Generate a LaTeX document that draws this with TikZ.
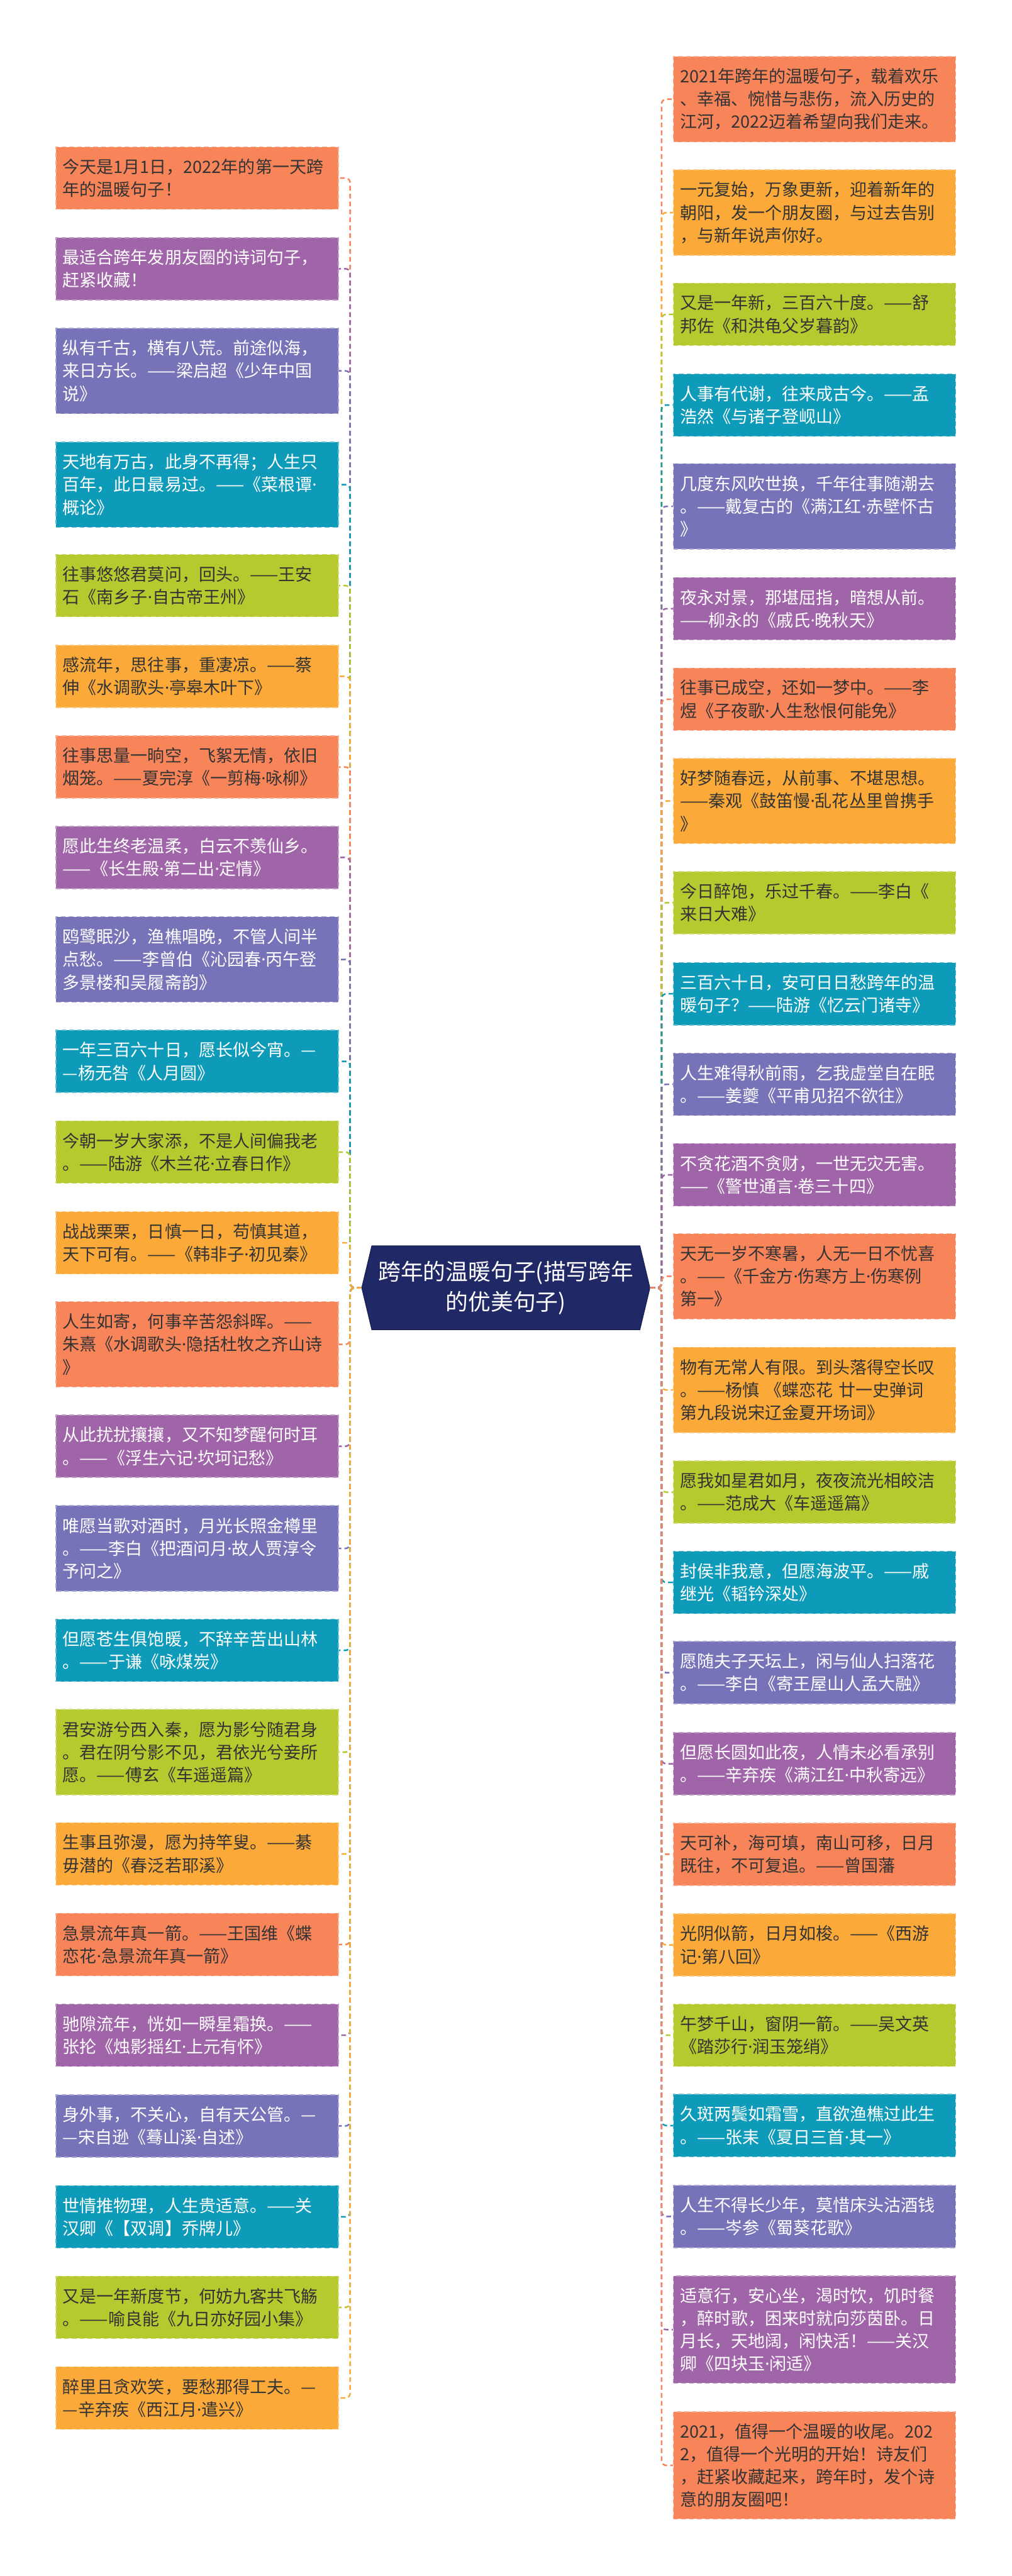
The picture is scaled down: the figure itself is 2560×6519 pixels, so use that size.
\documentclass[tikz,border=0pt]{standalone}
\usepackage{fontspec}
\setmainfont{Noto Sans CJK SC}
\newfontfamily\dotfont{Noto Sans}
\newcommand\mdot{{\dotfont ·}}
\usetikzlibrary{shapes.symbols}
\definecolor{coral}{HTML}{F8845A}
\definecolor{amber}{HTML}{FBAA3A}
\definecolor{lime}{HTML}{B6C92F}
\definecolor{teal}{HTML}{0E9BB9}
\definecolor{indigo}{HTML}{7673B8}
\definecolor{plum}{HTML}{A064A8}
\definecolor{navy}{HTML}{212866}
\definecolor{ink}{HTML}{333333}
\begin{document}
\begin{tikzpicture}[
      x=0.25pt,y=-0.25pt,
      leaf/.style={
        rectangle,fill=#1,draw=#1!65!white,dashed,line width=0.6pt,
        dash pattern=on 3pt off 2pt,
        text width=170pt,inner xsep=4.25pt,inner ysep=1pt,align=left,
        minimum height=39.4pt,font=\fontsize{10.75pt}{14.4pt}\selectfont,
        execute at begin node={\XeTeXlinebreakpenalty=10000\relax
          \hyphenpenalty=10000\relax\exhyphenpenalty=10000\relax}
      },
      dk/.style={leaf=#1,text=ink},
      wt/.style={leaf=#1,text=white},
      l3/.style={minimum height=54pt},
      l4/.style={minimum height=67.75pt},
      rootbox/.style={
        signal,signal to=west and east,signal pointer angle=153,
        fill=navy,draw=navy!80!black,line width=0.5pt,text=white,align=center,
        minimum width=182.25pt,minimum height=53pt,inner sep=1pt,
        font=\fontsize{14.25pt}{19pt}\selectfont
      },
      link/.style={dashed,dash pattern=on 3pt off 2pt,line width=1pt,rounded corners=3pt},
    ]
    \useasboundingbox (0,0) rectangle (2560,6519);
    \node[rootbox] (root) at (1280,3259) {跨年的温暖句子(描写跨年\\的优美句子)};
    \coordinate (ltrunk) at (886,3259);
    \coordinate (rtrunk) at (1674,3259);
    % left side
    \node[dk=coral] (l1) at (499,450.5) {今天是1月1日，2022年的第一天跨\\年的温暖句子！};
    \node[wt=plum] (l2) at (499,680) {最适合跨年发朋友圈的诗词句子，\\赶紧收藏！};
    \node[wt=indigo,l3] (l3) at (499,938.5) {纵有千古，横有八荒。前途似海，\\来日方长。——梁启超《少年中国\\说》};
    \node[wt=teal,l3] (l4) at (499,1226.5) {天地有万古，此身不再得；人生只\\百年，此日最易过。——《菜根谭\mdot{}\\概论》};
    \node[dk=lime] (l5) at (499,1482) {往事悠悠君莫问，回头。——王安\\石《南乡子\mdot{}自古帝王州》};
    \node[dk=amber] (l6) at (499,1711.5) {感流年，思往事，重凄凉。——蔡\\伸《水调歌头\mdot{}亭皋木叶下》};
    \node[dk=coral] (l7) at (499,1941) {往事思量一晌空，飞絮无情，依旧\\烟笼。——夏完淳《一剪梅\mdot{}咏柳》};
    \node[wt=plum] (l8) at (499,2170) {愿此生终老温柔，白云不羡仙乡。\\——《长生殿\mdot{}第二出\mdot{}定情》};
    \node[wt=indigo,l3] (l9) at (499,2428) {鸥鹭眠沙，渔樵唱晚，不管人间半\\点愁。——李曾伯《沁园春\mdot{}丙午登\\多景楼和吴履斋韵》};
    \node[wt=teal] (l10) at (499,2686) {一年三百六十日，愿长似今宵。—\\—杨无咎《人月圆》};
    \node[dk=lime] (l11) at (499,2915.5) {今朝一岁大家添，不是人间偏我老\\。——陆游《木兰花\mdot{}立春日作》};
    \node[dk=amber] (l12) at (499,3145) {战战栗栗，日慎一日，苟慎其道，\\天下可有。——《韩非子\mdot{}初见秦》};
    \node[dk=coral,l3] (l13) at (499,3402) {人生如寄，何事辛苦怨斜晖。——\\朱熹《水调歌头\mdot{}隐括杜牧之齐山诗\\》};
    \node[wt=plum] (l14) at (499,3660) {从此扰扰攘攘，又不知梦醒何时耳\\。——《浮生六记\mdot{}坎坷记愁》};
    \node[wt=indigo,l3] (l15) at (499,3918.5) {唯愿当歌对酒时，月光长照金樽里\\。——李白《把酒问月\mdot{}故人贾淳令\\予问之》};
    \node[wt=teal] (l16) at (499,4176.5) {但愿苍生俱饱暖，不辞辛苦出山林\\。——于谦《咏煤炭》};
    \node[dk=lime,l3] (l17) at (499,4434) {君安游兮西入秦，愿为影兮随君身\\。君在阴兮影不见，君依光兮妾所\\愿。——傅玄《车遥遥篇》};
    \node[dk=amber] (l18) at (499,4691.5) {生事且弥漫，愿为持竿叟。——綦\\毋潜的《春泛若耶溪》};
    \node[dk=coral] (l19) at (499,4921) {急景流年真一箭。——王国维《蝶\\恋花\mdot{}急景流年真一箭》};
    \node[wt=plum] (l20) at (499,5150.5) {驰隙流年，恍如一瞬星霜换。——\\张抡《烛影摇红\mdot{}上元有怀》};
    \node[wt=indigo] (l21) at (499,5380) {身外事，不关心，自有天公管。—\\—宋自逊《蓦山溪\mdot{}自述》};
    \node[wt=teal] (l22) at (499,5610) {世情推物理，人生贵适意。——关\\汉卿《【双调】乔牌儿》};
    \node[dk=lime] (l23) at (499,5839) {又是一年新度节，何妨九客共飞觞\\。——喻良能《九日亦好园小集》};
    \node[dk=amber] (l24) at (499,6068.5) {醉里且贪欢笑，要愁那得工夫。—\\—辛弃疾《西江月\mdot{}遣兴》};
    % right side
    \node[dk=coral,l3] (r1) at (2061,251) {2021年跨年的温暖句子，载着欢乐\\、幸福、惋惜与悲伤，流入历史的\\江河，2022迈着希望向我们走来。};
    \node[dk=amber,l3] (r2) at (2061,538) {一元复始，万象更新，迎着新年的\\朝阳，发一个朋友圈，与过去告别\\，与新年说声你好。};
    \node[dk=lime] (r3) at (2061,795.5) {又是一年新，三百六十度。——舒\\邦佐《和洪龟父岁暮韵》};
    \node[wt=teal] (r4) at (2061,1025) {人事有代谢，往来成古今。——孟\\浩然《与诸子登岘山》};
    \node[wt=indigo,l3] (r5) at (2061,1281.5) {几度东风吹世换，千年往事随潮去\\。——戴复古的《满江红\mdot{}赤壁怀古\\》};
    \node[wt=plum] (r6) at (2061,1540.5) {夜永对景，那堪屈指，暗想从前。\\——柳永的《戚氏\mdot{}晚秋天》};
    \node[dk=coral] (r7) at (2061,1769.5) {往事已成空，还如一梦中。——李\\煜《子夜歌\mdot{}人生愁恨何能免》};
    \node[dk=amber,l3] (r8) at (2061,2027) {好梦随春远，从前事、不堪思想。\\——秦观《鼓笛慢\mdot{}乱花丛里曾携手\\》};
    \node[dk=lime] (r9) at (2061,2284.5) {今日醉饱，乐过千春。——李白《\\来日大难》};
    \node[wt=teal] (r10) at (2061,2515) {三百六十日，安可日日愁跨年的温\\暖句子？——陆游《忆云门诸寺》};
    \node[wt=indigo] (r11) at (2061,2744) {人生难得秋前雨，乞我虚堂自在眠\\。——姜夔《平甫见招不欲往》};
    \node[wt=plum] (r12) at (2061,2973) {不贪花酒不贪财，一世无灾无害。\\——《警世通言\mdot{}卷三十四》};
    \node[dk=coral,l3] (r13) at (2061,3230) {天无一岁不寒暑，人无一日不忧喜\\。——《千金方\mdot{}伤寒方上\mdot{}伤寒例\\第一》};
    \node[dk=amber,l3] (r14) at (2061,3517.5) {物有无常人有限。到头落得空长叹\\。——杨慎 《蝶恋花 廿一史弹词\\第九段说宋辽金夏开场词》};
    \node[dk=lime] (r15) at (2061,3776) {愿我如星君如月，夜夜流光相皎洁\\。——范成大《车遥遥篇》};
    \node[wt=teal] (r16) at (2061,4004.5) {封侯非我意，但愿海波平。——戚\\继光《韬钤深处》};
    \node[wt=indigo] (r17) at (2061,4233) {愿随夫子天坛上，闲与仙人扫落花\\。——李白《寄王屋山人孟大融》};
    \node[wt=plum] (r18) at (2061,4463.5) {但愿长圆如此夜，人情未必看承别\\。——辛弃疾《满江红\mdot{}中秋寄远》};
    \node[dk=coral] (r19) at (2061,4692.5) {天可补，海可填，南山可移，日月\\既往，不可复追。——曾国藩};
    \node[dk=amber] (r20) at (2061,4922) {光阴似箭，日月如梭。——《西游\\记\mdot{}第八回》};
    \node[dk=lime] (r21) at (2061,5150.5) {午梦千山，窗阴一箭。——吴文英\\《踏莎行\mdot{}润玉笼绡》};
    \node[wt=teal] (r22) at (2061,5379) {久斑两鬓如霜雪，直欲渔樵过此生\\。——张耒《夏日三首\mdot{}其一》};
    \node[wt=indigo] (r23) at (2061,5609) {人生不得长少年，莫惜床头沽酒钱\\。——岑参《蜀葵花歌》};
    \node[wt=plum,l4] (r24) at (2061,5895.5) {适意行，安心坐，渴时饮，饥时餐\\，醉时歌，困来时就向莎茵卧。日\\月长，天地阔，闲快活！——关汉\\卿《四块玉\mdot{}闲适》};
    \node[dk=coral,l4] (r25) at (2061,6239) {2021，值得一个温暖的收尾。202\\2，值得一个光明的开始！诗友们\\，赶紧收藏起来，跨年时，发个诗\\意的朋友圈吧！};
    % links
    \draw[link,coral] (root.west) -- (ltrunk) |- (l1.east);
    \draw[link,plum] (root.west) -- (ltrunk) |- (l2.east);
    \draw[link,indigo] (root.west) -- (ltrunk) |- (l3.east);
    \draw[link,teal] (root.west) -- (ltrunk) |- (l4.east);
    \draw[link,lime] (root.west) -- (ltrunk) |- (l5.east);
    \draw[link,amber] (root.west) -- (ltrunk) |- (l6.east);
    \draw[link,coral] (root.west) -- (ltrunk) |- (l7.east);
    \draw[link,plum] (root.west) -- (ltrunk) |- (l8.east);
    \draw[link,indigo] (root.west) -- (ltrunk) |- (l9.east);
    \draw[link,teal] (root.west) -- (ltrunk) |- (l10.east);
    \draw[link,lime] (root.west) -- (ltrunk) |- (l11.east);
    \draw[link,amber] (root.west) -- (ltrunk) |- (l12.east);
    \draw[link,coral] (root.west) -- (ltrunk) |- (l13.east);
    \draw[link,plum] (root.west) -- (ltrunk) |- (l14.east);
    \draw[link,indigo] (root.west) -- (ltrunk) |- (l15.east);
    \draw[link,teal] (root.west) -- (ltrunk) |- (l16.east);
    \draw[link,lime] (root.west) -- (ltrunk) |- (l17.east);
    \draw[link,amber] (root.west) -- (ltrunk) |- (l18.east);
    \draw[link,coral] (root.west) -- (ltrunk) |- (l19.east);
    \draw[link,plum] (root.west) -- (ltrunk) |- (l20.east);
    \draw[link,indigo] (root.west) -- (ltrunk) |- (l21.east);
    \draw[link,teal] (root.west) -- (ltrunk) |- (l22.east);
    \draw[link,lime] (root.west) -- (ltrunk) |- (l23.east);
    \draw[link,amber] (root.west) -- (ltrunk) |- (l24.east);
    \draw[link,coral] (root.east) -- (rtrunk) |- (r1.west);
    \draw[link,amber] (root.east) -- (rtrunk) |- (r2.west);
    \draw[link,lime] (root.east) -- (rtrunk) |- (r3.west);
    \draw[link,teal] (root.east) -- (rtrunk) |- (r4.west);
    \draw[link,indigo] (root.east) -- (rtrunk) |- (r5.west);
    \draw[link,plum] (root.east) -- (rtrunk) |- (r6.west);
    \draw[link,coral] (root.east) -- (rtrunk) |- (r7.west);
    \draw[link,amber] (root.east) -- (rtrunk) |- (r8.west);
    \draw[link,lime] (root.east) -- (rtrunk) |- (r9.west);
    \draw[link,teal] (root.east) -- (rtrunk) |- (r10.west);
    \draw[link,indigo] (root.east) -- (rtrunk) |- (r11.west);
    \draw[link,plum] (root.east) -- (rtrunk) |- (r12.west);
    \draw[link,coral] (root.east) -- (rtrunk) |- (r13.west);
    \draw[link,amber] (root.east) -- (rtrunk) |- (r14.west);
    \draw[link,lime] (root.east) -- (rtrunk) |- (r15.west);
    \draw[link,teal] (root.east) -- (rtrunk) |- (r16.west);
    \draw[link,indigo] (root.east) -- (rtrunk) |- (r17.west);
    \draw[link,plum] (root.east) -- (rtrunk) |- (r18.west);
    \draw[link,coral] (root.east) -- (rtrunk) |- (r19.west);
    \draw[link,amber] (root.east) -- (rtrunk) |- (r20.west);
    \draw[link,lime] (root.east) -- (rtrunk) |- (r21.west);
    \draw[link,teal] (root.east) -- (rtrunk) |- (r22.west);
    \draw[link,indigo] (root.east) -- (rtrunk) |- (r23.west);
    \draw[link,plum] (root.east) -- (rtrunk) |- (r24.west);
    \draw[link,coral] (root.east) -- (rtrunk) |- (r25.west);
  \end{tikzpicture}
\end{document}
